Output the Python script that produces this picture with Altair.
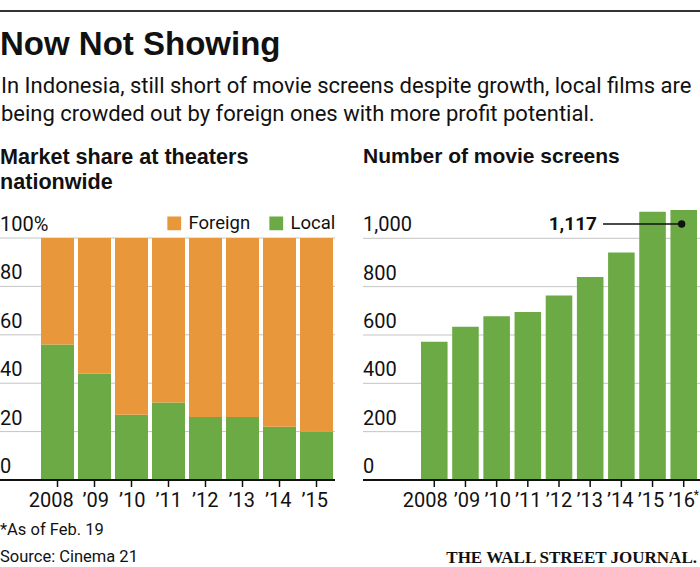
import altair as alt
import pandas as pd

# ---------------- data ----------------
TITLE = "Now Not Showing"
SUBTITLE = ["In Indonesia, still short of movie screens despite growth, local films are",
            "being crowded out by foreign ones with more profit potential."]
LEFT_HEAD = ["Market share at theaters", "nationwide"]
RIGHT_HEAD = ["Number of movie screens"]
FOOTNOTE = "*As of Feb. 19"
SOURCE = "Source: Cinema 21"
CREDIT = "THE WALL STREET JOURNAL."

share_years = ["2008", "\u201909", "\u201910", "\u201911", "\u201912", "\u201913", "\u201914", "\u201915"]
local_share = [56, 44, 27, 32, 26, 26, 22, 20]
foreign_share = [44, 56, 73, 68, 74, 74, 78, 80]
share_types = ["Foreign", "Local"]

screen_years = ["2008", "\u201909", "\u201910", "\u201911", "\u201912", "\u201913", "\u201914", "\u201915", "\u201916"]
screens = [572, 634, 677, 695, 763, 840, 941, 1110, 1117]
starred_years = ["\u201916"]

share_ticks = [0, 20, 40, 60, 80, 100]
share_tick_labels = ["0", "20", "40", "60", "80", "100%"]
screen_ticks = [0, 200, 400, 600, 800, 1000]
screen_tick_labels = ["0", "200", "400", "600", "800", "1,000"]

highlight_year = ["\u201916"]
highlight_value = [1117]
highlight_label = ["1,117"]

# ---------------- styles ----------------
ORANGE = "#E8973A"
GREEN = "#6BAA45"
GRID = "#c4c4c4"
INK = "#111111"
SANS = "Roboto, sans-serif"
HEAD = "Liberation Sans, Arial, sans-serif"
SERIF = "Liberation Serif, serif"

xL = alt.Scale(domain=share_years, range=[41, 333], paddingInner=0.108, paddingOuter=0)
yL = alt.Scale(domain=[0, 100], range=[480, 238], nice=False, zero=True)
xR = alt.Scale(domain=screen_years, range=[421, 697], paddingInner=0.148, paddingOuter=0)
yR = alt.Scale(domain=[0, 1000], range=[480, 238.3], nice=False, zero=True)

# ---------------- tables ----------------
share_df = pd.DataFrame({
    "year": share_years * 2,
    "type": ["Local"] * len(share_years) + ["Foreign"] * len(share_years),
    "share": local_share + foreign_share,
})
screen_df = pd.DataFrame({"year": screen_years, "screens": screens})
lt_df = pd.DataFrame({"v": share_ticks, "label": share_tick_labels})
rt_df = pd.DataFrame({"v": screen_ticks, "label": screen_tick_labels})
lyear_df = pd.DataFrame({"year": share_years})
ryear_df = pd.DataFrame({"year": screen_years})
star_df = pd.DataFrame({"year": starred_years})
hl_df = pd.DataFrame({"year": highlight_year, "value": highlight_value, "label": highlight_label})
one = pd.DataFrame({"a": [0]})


def txt(text, x, y, size, font, weight="normal", align="left", line_height=None):
    kw = dict(align=align, baseline="alphabetic", fontSize=size, font=font,
              fontWeight=weight, color=INK)
    if line_height is not None:
        kw["lineHeight"] = line_height
    return alt.Chart(one).mark_text(**kw).encode(
        x=alt.value(x), y=alt.value(y), text=alt.value(text))


def year_labels(df, xscale, order, first_dx):
    base = alt.Chart(df)
    enc = dict(x=alt.X("year:N", scale=xscale, axis=None, sort=order), y=alt.value(507), text="year:N")
    first = base.transform_filter(alt.datum.year == "2008").mark_text(
        align="center", baseline="alphabetic", fontSize=20, font=SANS, color=INK, dx=first_dx).encode(**enc)
    rest = base.transform_filter(alt.datum.year != "2008").mark_text(
        align="center", baseline="alphabetic", fontSize=20, font=SANS, color=INK).encode(**enc)
    return [first, rest]


layers = []

# top rule
layers.append(alt.Chart(one).mark_rule(color="#333333", strokeWidth=2).encode(
    x=alt.value(0), x2=alt.value(700), y=alt.value(11)))

# titles
layers.append(txt(TITLE, 0, 55, 33, HEAD, weight="bold"))
layers.append(txt(SUBTITLE, 1, 93, 22, SANS, line_height=28))
layers.append(txt(LEFT_HEAD, 0, 164, 21.6, HEAD, weight="bold", line_height=25))
layers.append(txt(RIGHT_HEAD, 363, 163, 21, HEAD, weight="bold"))

# ---- left panel ----
layers.append(alt.Chart(lt_df).mark_rule(color=GRID, strokeWidth=1).encode(
    y=alt.Y("v:Q", scale=yL, axis=None), x=alt.value(0), x2=alt.value(335)))
layers.append(alt.Chart(share_df).mark_bar().encode(
    x=alt.X("year:N", scale=xL, axis=None, sort=share_years),
    y=alt.Y("share:Q", scale=yL, axis=None, stack="zero"),
    color=alt.Color("type:N", scale=alt.Scale(domain=share_types, range=[ORANGE, GREEN]),
                    legend=alt.Legend(orient="none", legendX=165, legendY=214, direction="horizontal",
                                      title=None, symbolType="square", symbolSize=190,
                                      symbolStrokeWidth=0, symbolOpacity=1, labelFontSize=18.5,
                                      labelFont=SANS, labelColor=INK, columnPadding=16,
                                      labelOffset=5, padding=0)),
    order=alt.Order("type:N", sort="descending"),
))
layers.append(alt.Chart(lt_df).mark_text(align="left", baseline="alphabetic", dy=-7,
                                         fontSize=20, font=SANS, color=INK).encode(
    y=alt.Y("v:Q", scale=yL, axis=None), x=alt.value(0), text="label:N"))
layers.append(alt.Chart(one).mark_rule(color=INK, strokeWidth=2).encode(
    y=alt.Y(datum=0, scale=yL, axis=None), x=alt.value(0), x2=alt.value(335)))
layers.append(alt.Chart(lyear_df).mark_rule(color=INK, strokeWidth=1.5).encode(
    x=alt.X("year:N", scale=xL, axis=None, sort=share_years),
    y=alt.Y(datum=0, scale=yL, axis=None), y2=alt.value(487)))
layers += year_labels(lyear_df, xL, share_years, -8)

# ---- right panel ----
layers.append(alt.Chart(rt_df).mark_rule(color=GRID, strokeWidth=1).encode(
    y=alt.Y("v:Q", scale=yR, axis=None), x=alt.value(363), x2=alt.value(700)))
layers.append(alt.Chart(screen_df).mark_bar(color=GREEN).encode(
    x=alt.X("year:N", scale=xR, axis=None, sort=screen_years),
    y=alt.Y("screens:Q", scale=yR, axis=None)))
layers.append(alt.Chart(rt_df).mark_text(align="left", baseline="alphabetic", dy=-7,
                                         fontSize=20, font=SANS, color=INK).encode(
    y=alt.Y("v:Q", scale=yR, axis=None), x=alt.value(363), text="label:N"))
layers.append(alt.Chart(one).mark_rule(color=INK, strokeWidth=2).encode(
    y=alt.Y(datum=0, scale=yR, axis=None), x=alt.value(363), x2=alt.value(700)))
layers.append(alt.Chart(ryear_df).mark_rule(color=INK, strokeWidth=1.5).encode(
    x=alt.X("year:N", scale=xR, axis=None, sort=screen_years),
    y=alt.Y(datum=0, scale=yR, axis=None), y2=alt.value(487)))
layers += year_labels(ryear_df, xR, screen_years, -11)
layers.append(alt.Chart(star_df).mark_text(align="left", baseline="alphabetic", fontSize=12,
                                           font=SANS, color=INK, dx=12, dy=-8).encode(
    x=alt.X("year:N", scale=xR, axis=None, sort=screen_years), y=alt.value(507), text=alt.value("*")))

# annotation
layers.append(alt.Chart(hl_df).mark_rule(color=INK, strokeWidth=1.5, yOffset=14).encode(
    x=alt.X("year:N", scale=xR, axis=None, sort=screen_years), x2=alt.value(603),
    y=alt.Y("value:Q", scale=yR, axis=None)))
layers.append(alt.Chart(hl_df).mark_circle(color=INK, opacity=1, size=55, yOffset=14).encode(
    x=alt.X("year:N", scale=xR, axis=None, sort=screen_years), y=alt.Y("value:Q", scale=yR, axis=None)))
layers.append(alt.Chart(hl_df).mark_text(align="right", baseline="alphabetic", fontSize=19,
                                         font=SANS, fontWeight="bold", color=INK, yOffset=20).encode(
    x=alt.value(597), y=alt.Y("value:Q", scale=yR, axis=None), text="label:N"))

# footer
layers.append(txt(FOOTNOTE, 0, 535, 16.5, SANS))
layers.append(txt(SOURCE, 0, 562, 16.5, SANS))
layers.append(txt(CREDIT, 697, 563, 17, SERIF, weight="bold", align="right"))

chart = alt.layer(*layers).resolve_scale(x="independent", y="independent", color="independent").properties(
    width=700, height=567, autosize=alt.AutoSizeParams(type="none"), padding=0,
    background="white",
).configure_view(stroke=None)

chart.save("out.html", embed_options={"renderer": "svg", "actions": False})
